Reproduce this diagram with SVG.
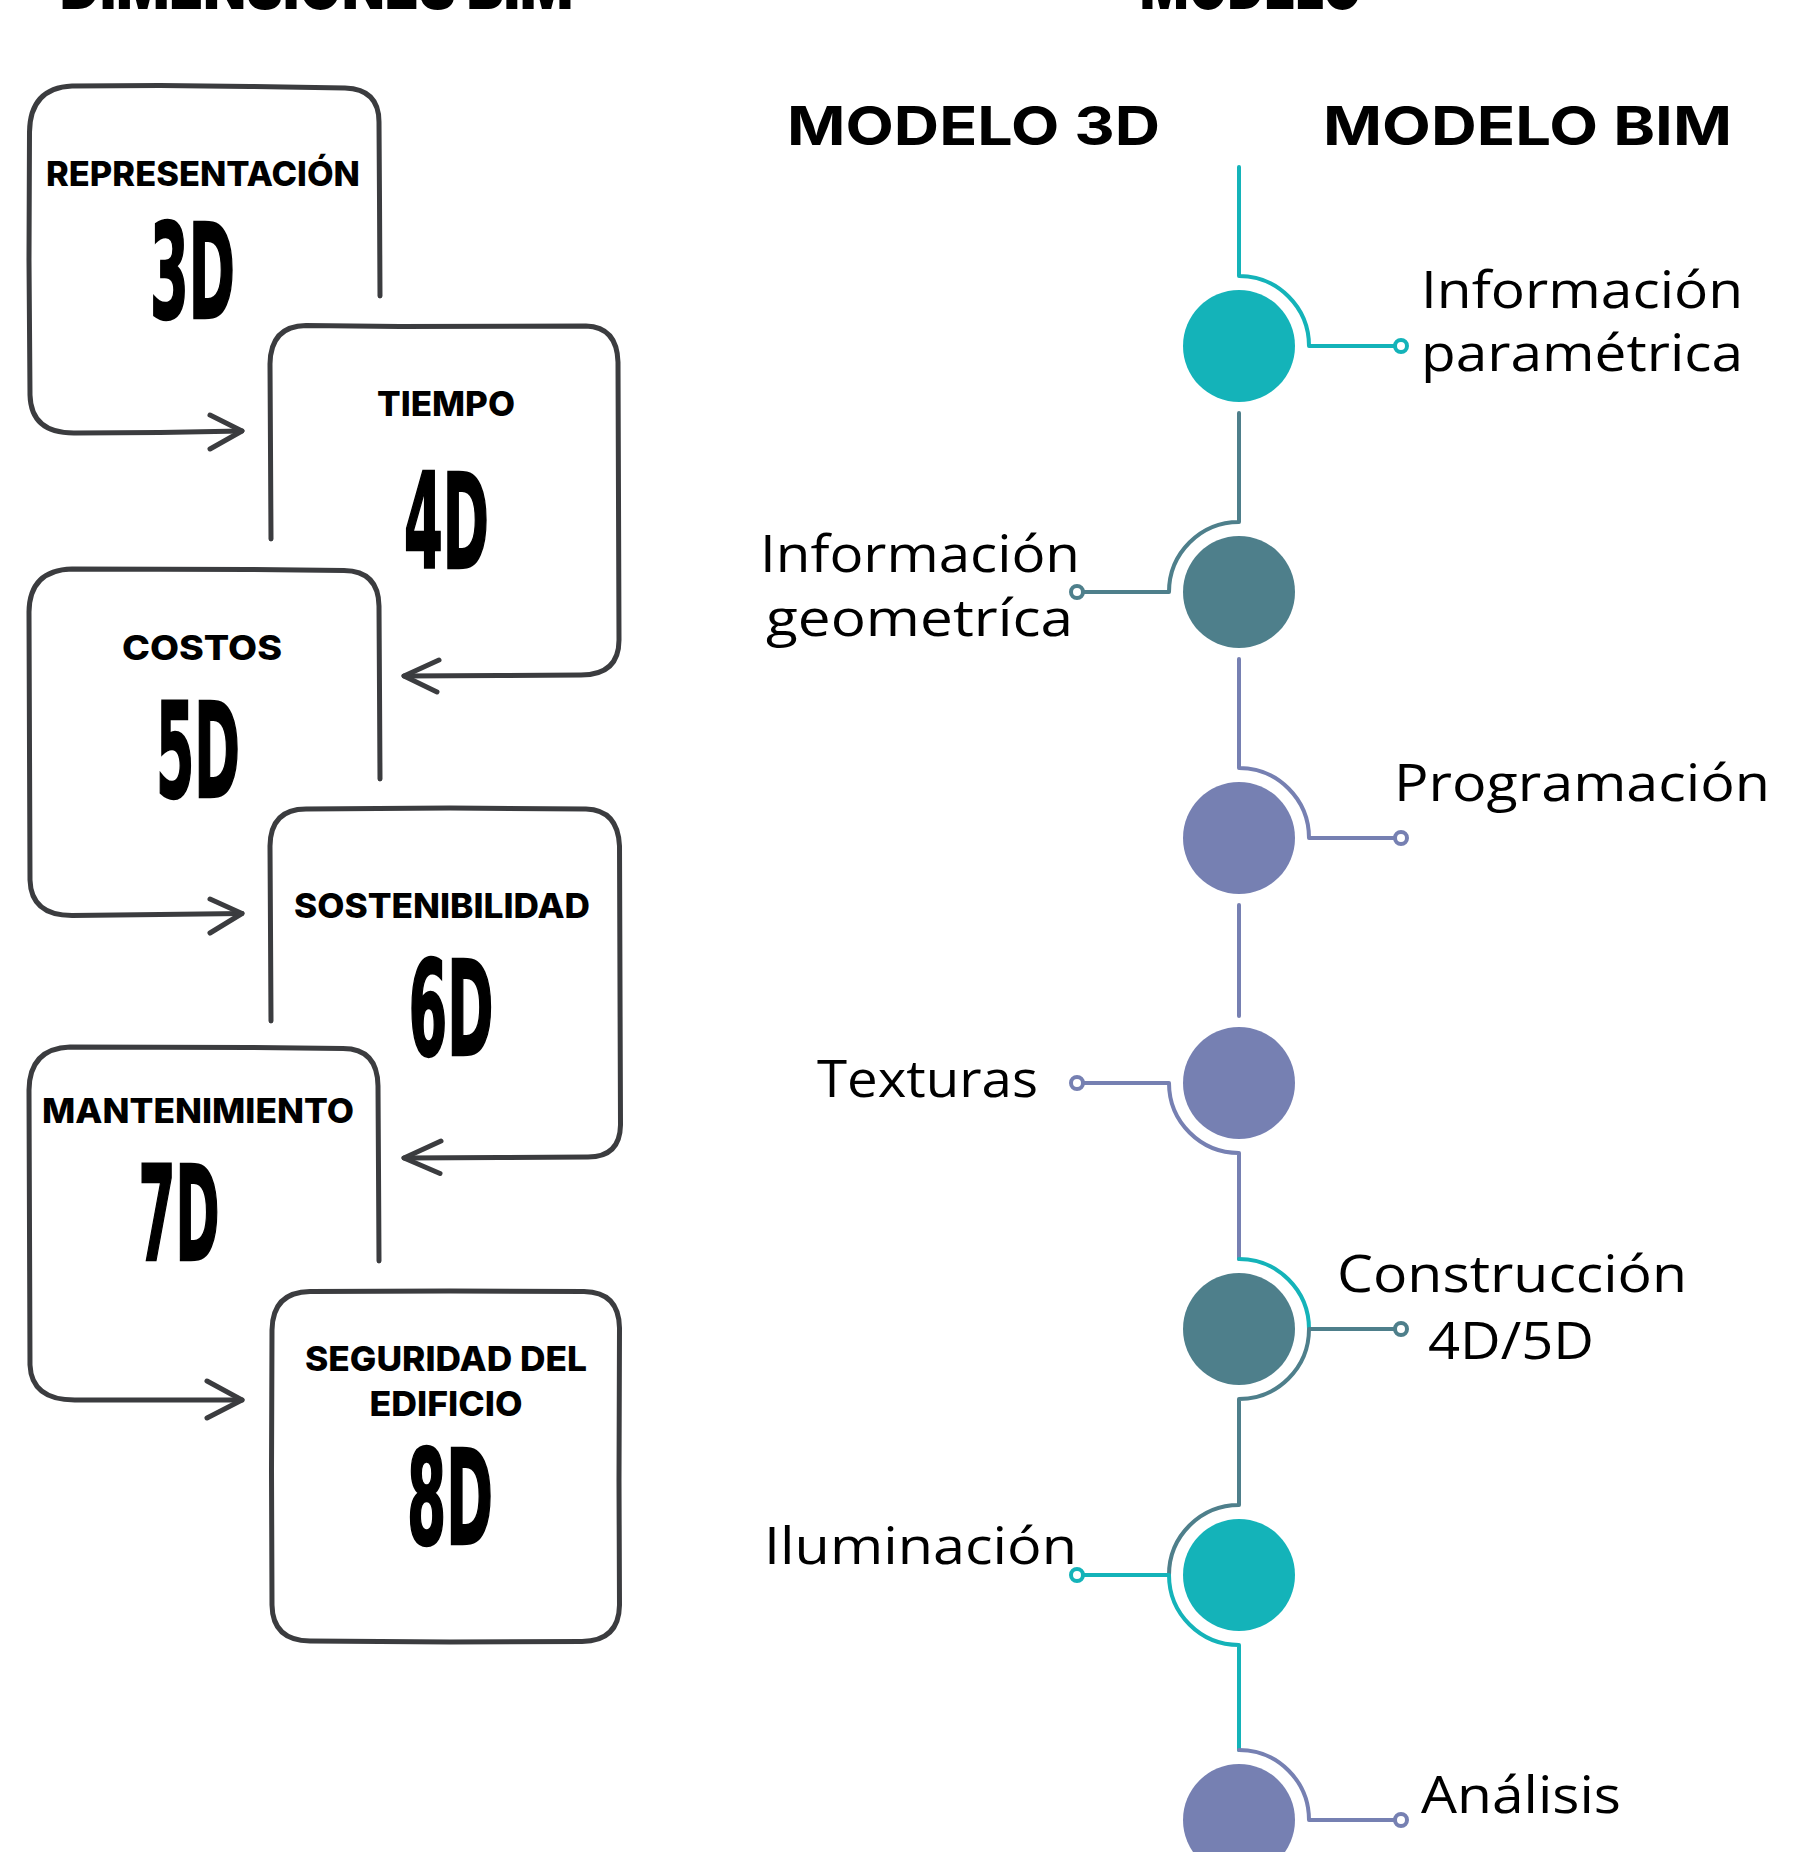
<svg xmlns="http://www.w3.org/2000/svg" width="1797" height="1852" viewBox="0 0 1797 1852">
<style>
.box{fill:none;stroke:#3b3c3f;stroke-width:5;stroke-linecap:round;stroke-linejoin:round}
.lab{font-family:Inter,"Liberation Sans",sans-serif;font-weight:800;font-size:34px;fill:#000;text-anchor:middle}
.big{font-family:"Liberation Sans Narrow","DejaVu Sans Condensed","Liberation Sans",sans-serif;font-weight:700;font-size:80px;fill:#000;stroke:#000;stroke-width:1.5;text-anchor:middle}
.ttl{font-family:Inter,"Liberation Sans",sans-serif;font-weight:900;font-size:64px;fill:#000}
.hdr{font-family:Inter,"Liberation Sans",sans-serif;font-weight:700;font-size:54px;fill:#000}
.txt{font-family:"Open Sans","Noto Sans","Liberation Sans",sans-serif;font-weight:400;font-size:52px;fill:#000}
.ln{fill:none;stroke-width:4;stroke-linecap:round;stroke-linejoin:round}
.teal{stroke:#14b3b9}.dteal{stroke:#4e7f8b}.purp{stroke:#7680b2}
.dot{fill:#fff;stroke-width:4}
</style>
<rect width="1797" height="1852" fill="#fff"/>

<g id="titles">
<text class="ttl" x="60" y="9" textLength="513" lengthAdjust="spacingAndGlyphs">DIMENSIONES BIM</text>
<text class="ttl" x="1140" y="9" textLength="222" lengthAdjust="spacingAndGlyphs">MODELO</text>
<text class="hdr" x="787" y="145" textLength="373" lengthAdjust="spacingAndGlyphs">MODELO 3D</text>
<text class="hdr" x="1323" y="145" textLength="409" lengthAdjust="spacingAndGlyphs">MODELO BIM</text>
</g>

<g id="box-3d">
<path class="box" d="M380,296 L379.5,200 L379,122 Q379,89 345,88 L250,86.5 L160,85.5 L72,86 Q30,88 29.5,132 L29,260 L30,395 Q31,434 76,433 L160,432.5 L242,431"/>
<path class="box" d="M210,415 L242,431 L210,449"/>
<text class="lab" x="203" y="186" textLength="314" lengthAdjust="spacingAndGlyphs">REPRESENTACIÓN</text>
<text class="big" transform="translate(192.5,318) scale(1,1.64)" textLength="85" lengthAdjust="spacingAndGlyphs">3D</text>
</g>

<g id="box-4d">
<path class="box" d="M271,539 L270.5,450 L270,364 Q270.5,326 306,325.5 L400,326.5 L586,326 Q617,327 618,362 L618.5,500 L619,640 Q619,675 581,675 L500,675.5 L404,676"/>
<path class="box" d="M439,660 L404,676 L437,692"/>
<text class="lab" x="446" y="416" textLength="138" lengthAdjust="spacingAndGlyphs">TIEMPO</text>
<text class="big" transform="translate(446.5,568) scale(1,1.64)" textLength="85" lengthAdjust="spacingAndGlyphs">4D</text>
</g>

<g id="box-5d">
<path class="box" d="M380,779 L379.5,690 L379,606 Q378.5,571 344,570.5 L250,569.5 L72,569 Q29.5,570 29,612 L29.5,750 L30,880 Q31,915.5 72,915.5 L160,914.5 L242,913.5"/>
<path class="box" d="M210,899 L242,913.5 L210,933"/>
<text class="lab" x="202" y="659.6" textLength="160" lengthAdjust="spacingAndGlyphs">COSTOS</text>
<text class="big" transform="translate(198,797) scale(1,1.64)" textLength="84" lengthAdjust="spacingAndGlyphs">5D</text>
</g>

<g id="box-6d">
<path class="box" d="M271,1021 L270.5,930 L270,846 Q270.5,809 306,809 L450,808 L586,809 Q618,810 619.5,846 L620,990 L620.5,1125 Q620,1157 588,1157 L500,1157.5 L404,1158"/>
<path class="box" d="M441,1141 L404,1158 L440,1173.5"/>
<text class="lab" x="442" y="917.6" textLength="296" lengthAdjust="spacingAndGlyphs">SOSTENIBILIDAD</text>
<text class="big" transform="translate(451,1055) scale(1,1.64)" textLength="85" lengthAdjust="spacingAndGlyphs">6D</text>
</g>

<g id="box-7d">
<path class="box" d="M379,1261 L378.5,1170 L378,1086 Q377.5,1048.5 343,1048.5 L250,1047.5 L70,1047 Q29.5,1048.5 29,1090 L29.5,1230 L30,1365 Q31.5,1400.5 76,1400 L242,1400"/>
<path class="box" d="M207,1381 L242,1400 L207,1418"/>
<text class="lab" x="198" y="1123" textLength="312" lengthAdjust="spacingAndGlyphs">MANTENIMIENTO</text>
<text class="big" transform="translate(179,1260.4) scale(1,1.64)" textLength="81" lengthAdjust="spacingAndGlyphs">7D</text>
</g>

<g id="box-8d">
<path class="box" d="M272,1330 Q272.5,1292 310,1291.5 L450,1291 L584,1291.5 Q619,1292 619.5,1328 L619,1480 L619.5,1605 Q619,1641 582,1641.5 L450,1642 L310,1641 Q272.5,1640.5 272,1605 L271.5,1470 Z"/>
<text class="lab" x="446" y="1370.6" textLength="282" lengthAdjust="spacingAndGlyphs">SEGURIDAD DEL</text>
<text class="lab" x="446" y="1416.3" textLength="153" lengthAdjust="spacingAndGlyphs">EDIFICIO</text>
<text class="big" transform="translate(450,1544) scale(1,1.64)" textLength="86" lengthAdjust="spacingAndGlyphs">8D</text>
</g>

<g id="connectors">
<path class="ln teal" d="M1239,167 V276 A70,70 0 0 1 1309,346 H1395"/>
<path class="ln dteal" d="M1239,413 V522 A70,70 0 0 0 1169,592 H1083"/>
<path class="ln purp" d="M1239,659 V768 A70,70 0 0 1 1309,838 H1395"/>
<path class="ln purp" d="M1239,905 V1016"/>
<path class="ln purp" d="M1083,1083 H1169 A70,70 0 0 0 1239,1153 V1259"/>
<path class="ln teal" d="M1239,1259 A70,70 0 0 1 1309,1329"/>
<path class="ln dteal" d="M1395,1329 H1309 A70,70 0 0 1 1239,1399 V1505 A70,70 0 0 0 1169,1575"/>
<path class="ln teal" d="M1083,1575 H1169 A70,70 0 0 0 1239,1645 V1750"/>
<path class="ln purp" d="M1239,1750 A70,70 0 0 1 1309,1820 H1395"/>
<circle class="dot teal" cx="1401" cy="346" r="6"/>
<circle class="dot dteal" cx="1077" cy="592" r="6"/>
<circle class="dot purp" cx="1401" cy="838" r="6"/>
<circle class="dot purp" cx="1077" cy="1083" r="6"/>
<circle class="dot dteal" cx="1401" cy="1329" r="6"/>
<circle class="dot teal" cx="1077" cy="1575" r="6"/>
<circle class="dot purp" cx="1401" cy="1820" r="6"/>
</g>

<g id="node-info-parametrica">
<circle cx="1239" cy="346" r="56" fill="#14b3b9"/>
<text class="txt" x="1421" y="308" textLength="322" lengthAdjust="spacingAndGlyphs">Información</text>
<text class="txt" x="1421" y="371" textLength="322" lengthAdjust="spacingAndGlyphs">paramétrica</text>
</g>
<g id="node-info-geometrica">
<circle cx="1239" cy="592" r="56" fill="#4e7f8b"/>
<text class="txt" x="760" y="572" textLength="320" lengthAdjust="spacingAndGlyphs">Información</text>
<text class="txt" x="766" y="635.6" textLength="307" lengthAdjust="spacingAndGlyphs">geometríca</text>
</g>
<g id="node-programacion">
<circle cx="1239" cy="838" r="56" fill="#7680b2"/>
<text class="txt" x="1394" y="801" textLength="376" lengthAdjust="spacingAndGlyphs">Programación</text>
</g>
<g id="node-texturas">
<circle cx="1239" cy="1083" r="56" fill="#7680b2"/>
<text class="txt" x="817" y="1097" textLength="221" lengthAdjust="spacingAndGlyphs">Texturas</text>
</g>
<g id="node-construccion">
<circle cx="1239" cy="1329" r="56" fill="#4e7f8b"/>
<text class="txt" x="1337" y="1292" textLength="350" lengthAdjust="spacingAndGlyphs">Construcción</text>
<text class="txt" x="1428" y="1359" textLength="166" lengthAdjust="spacingAndGlyphs">4D/5D</text>
</g>
<g id="node-iluminacion">
<circle cx="1239" cy="1575" r="56" fill="#14b3b9"/>
<text class="txt" x="764" y="1564" textLength="313" lengthAdjust="spacingAndGlyphs">Iluminación</text>
</g>
<g id="node-analisis">
<circle cx="1239" cy="1820" r="56" fill="#7680b2"/>
<text class="txt" x="1421" y="1813" textLength="200" lengthAdjust="spacingAndGlyphs">Análisis</text>
</g>
</svg>
